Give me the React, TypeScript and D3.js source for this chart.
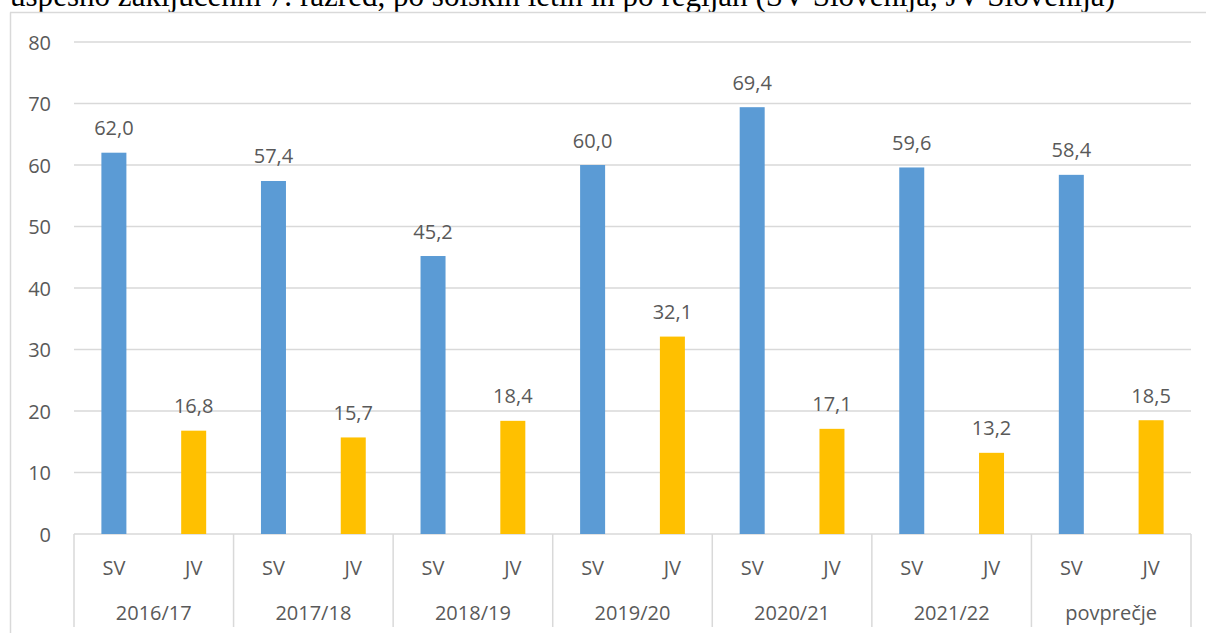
import React from "react";
import * as d3 from "d3";

const years = ["2016/17", "2017/18", "2018/19", "2019/20", "2020/21", "2021/22", "povprečje"];
const regions = ["SV", "JV"];
const svValues = [62.0, 57.4, 45.2, 60.0, 69.4, 59.6, 58.4];
const jvValues = [16.8, 15.7, 18.4, 32.1, 17.1, 13.2, 18.5];
const yTicks = [0, 10, 20, 30, 40, 50, 60, 70, 80];
const title = "uspešno zaključenm 7. razred, po šolskih letih in po regijah (SV Slovenija, JV Slovenija)";

const W = 1206;
const H = 633;
const left = 74;
const right = 1191;
const top = 42;
const bottom = 534;
const grid = "#D9D9D9";
const textColor = "#595959";
const font = "Open Sans, Noto Sans, sans-serif";
const fs = 20;
const colors: Record<string, string> = { SV: "#5B9BD5", JV: "#FFC000" };

export default function App() {
  const y = d3.scaleLinear().domain([0, 80]).range([bottom, top]);
  const x0 = d3.scaleBand<string>().domain(years).range([left, right]).padding(0);
  const gw = x0.bandwidth();
  const x1 = d3
    .scaleBand<string>()
    .domain(regions)
    .range([0, gw])
    .paddingInner(1 - 50 / gw)
    .paddingOuter((1 - 50 / gw) / 2);
  const fmt = (v: number) => v.toFixed(1).replace(".", ",");
  const series: Record<string, number[]> = { SV: svValues, JV: jvValues };

  return (
    <svg width={W} height={H} style={{ position: "absolute", left: 0, top: 0, background: "#fff" }}>
      <text
        x={10}
        y={6}
        style={{ fontFamily: "'Liberation Serif', serif" }}
        fontSize={31}
        fill="#000"
        textLength={1105}
        lengthAdjust="spacingAndGlyphs"
      >
        {title}
      </text>
      {/* chart border */}
      <line x1={10.5} x2={10.5} y1={12.5} y2={H + 5} stroke={grid} strokeWidth={1.5} />
      <line x1={10} x2={W + 5} y1={12.5} y2={12.5} stroke={grid} strokeWidth={1.5} />
      {/* gridlines */}
      {yTicks.map((t) => (
        <g key={t}>
          <line x1={left} x2={right} y1={y(t)} y2={y(t)} stroke={grid} strokeWidth={1.5} />
          <text
            x={51}
            y={y(t)}
            textAnchor="end"
            dominantBaseline="central"
            fontFamily={font}
            fontSize={fs}
            fill={textColor}
          >
            {t}
          </text>
        </g>
      ))}
      {/* category axis separators */}
      {[...years.map((g) => x0(g)!), right].map((xv, i) => (
        <line key={i} x1={xv} x2={xv} y1={bottom} y2={627} stroke={grid} strokeWidth={1.5} />
      ))}
      {years.map((g, gi) => (
        <g key={g}>
          {regions.map((r) => {
            const v = series[r][gi];
            const bx = x0(g)! + x1(r)!;
            const cx = bx + x1.bandwidth() / 2;
            return (
              <g key={r}>
                <rect x={bx} y={y(v)} width={x1.bandwidth()} height={bottom - y(v)} fill={colors[r]} />
                <text
                  x={cx}
                  y={y(v) - 25}
                  textAnchor="middle"
                  dominantBaseline="central"
                  fontFamily={font}
                  fontSize={fs}
                  fill={textColor}
                >
                  {fmt(v)}
                </text>
                <text
                  x={cx}
                  y={567}
                  textAnchor="middle"
                  dominantBaseline="central"
                  fontFamily={font}
                  fontSize={fs}
                  fill={textColor}
                >
                  {r}
                </text>
              </g>
            );
          })}
          <text
            x={x0(g)! + gw / 2}
            y={612}
            textAnchor="middle"
            dominantBaseline="central"
            fontFamily={font}
            fontSize={fs}
            fill={textColor}
          >
            {g}
          </text>
        </g>
      ))}
    </svg>
  );
}
